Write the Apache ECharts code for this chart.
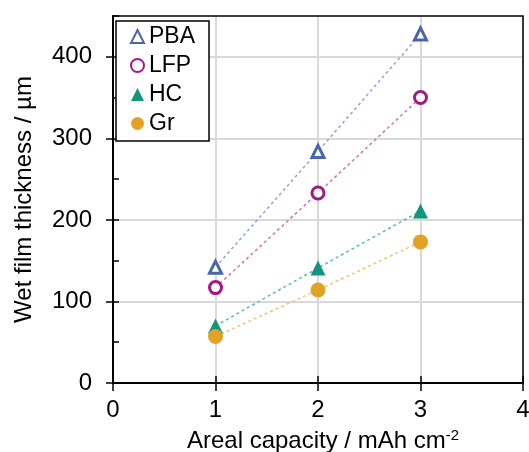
<!DOCTYPE html>
<html>
<head>
<meta charset="utf-8">
<script src="https://cdn.jsdelivr.net/npm/echarts@6/dist/echarts.min.js"></script>
<style>
  html, body { margin: 0; padding: 0; background: #fff; }
  #chart { width: 529px; height: 452px; }
</style>
</head>
<body>
<div id="chart"></div>
<script>
// areal capacity (mAh cm-2)
const capacity = [1, 2, 3];
// wet film thickness (um)
const pbaValues = [142, 284, 428];
const lfpValues = [117, 233, 350];
const hcValues = [70, 141, 211];
const grValues = [57, 114, 173];
const yTicks = [0, 100, 200, 300, 400];

const FONT = "Liberation Sans";

function pairs(xs, ys) {
  return xs.map((x, i) => [x, ys[i]]);
}

function makeSeries(name, values, symbol, color, lineColor, hollow) {
  return {
    name: name,
    type: "line",
    data: pairs(capacity, values),
    symbol: symbol,
    symbolSize: hollow ? 12 : 15,
    lineStyle: { color: lineColor, width: 1.5, type: [3, 3] },
    itemStyle: hollow
      ? { color: "#fff", borderColor: color, borderWidth: 3 }
      : { color: color, borderWidth: 0 },
    z: 5,
  };
}

const el = echarts.init(document.getElementById("chart"));

const options = {
  animation: false,
  textStyle: { fontFamily: FONT },
  grid: {
    left: 113,
    right: 6,
    top: 16,
    bottom: 69,
    containLabel: false,
    outerBoundsMode: "none",
    show: true,
    borderColor: "#000",
    borderWidth: 1.5,
    z: 1,
  },
  legend: {
    orient: "vertical",
    left: 116,
    top: 21,
    padding: [4, 14, 6, 14],
    itemGap: 6,
    itemWidth: 13,
    itemHeight: 13,
    itemTextGap: 6,
    borderColor: "#000",
    borderWidth: 1.5,
    backgroundColor: "#fff",
    textStyle: { fontSize: 23, color: "#000", fontFamily: FONT },
    data: [
      { name: "PBA", icon: "triangle" },
      { name: "LFP", icon: "circle" },
      { name: "HC", icon: "triangle" },
      { name: "Gr", icon: "circle" },
    ],
  },
  xAxis: [
    {
      type: "value",
      min: 0,
      max: 4,
      interval: 1,
      name: "{a|Areal capacity / mAh cm}{s|-2}",
      nameLocation: "middle",
      nameGap: 45,
      nameTextStyle: {
        rich: {
          a: { fontSize: 24, color: "#000", fontFamily: FONT, padding: [0, 0, 0, 10] },
          s: { fontSize: 15, color: "#000", fontFamily: FONT, verticalAlign: "top", padding: [0, 0, 12, 0] },
        },
      },
      axisLine: { onZero: false, lineStyle: { color: "#000", width: 2 } },
      axisTick: { show: true, inside: false, length: 8, lineStyle: { color: "#000", width: 1.5 } },
      axisLabel: { fontSize: 24, color: "#000", margin: 15 },
      splitLine: { show: true, lineStyle: { color: "#d9d9d9", width: 2 } },
    },
    {
      type: "value",
      min: 0,
      max: 4,
      interval: 1,
      position: "bottom",
      axisLine: { show: false },
      axisTick: { show: true, inside: true, length: 7, lineStyle: { color: "#000", width: 1.5 } },
      axisLabel: { show: false },
      splitLine: { show: false },
    },
  ],
  yAxis: [
    {
      type: "value",
      min: 0,
      max: 450,
      interval: 100,
      name: "Wet film thickness / µm",
      nameLocation: "middle",
      nameGap: 77,
      nameTextStyle: { fontSize: 24, color: "#000", fontFamily: FONT },
      axisLine: { onZero: false, lineStyle: { color: "#000", width: 2 } },
      axisTick: { show: true, inside: false, length: 7, customValues: yTicks, lineStyle: { color: "#000", width: 1.5 } },
      axisLabel: {
        fontSize: 24,
        color: "#000",
        margin: 21,
        customValues: yTicks,
      },
      splitLine: { show: true, lineStyle: { color: "#d9d9d9", width: 2 } },
    },
    {
      type: "value",
      min: 0,
      max: 450,
      interval: 50,
      position: "left",
      axisLine: { show: false },
      axisTick: { show: true, inside: true, length: 6, lineStyle: { color: "#000", width: 1.5 } },
      axisLabel: { show: false },
      splitLine: { show: false },
    },
  ],
  series: [
    makeSeries("PBA", pbaValues, "triangle", "#4866ad", "#8fa3d8", true),
    makeSeries("LFP", lfpValues, "circle", "#a3197f", "#d66fb0", true),
    makeSeries("HC", hcValues, "triangle", "#11957f", "#52c0ab", false),
    makeSeries("Gr", grValues, "circle", "#e2a224", "#f2c36a", false),
  ],
};

el.setOption(options);
</script>
</body>
</html>
